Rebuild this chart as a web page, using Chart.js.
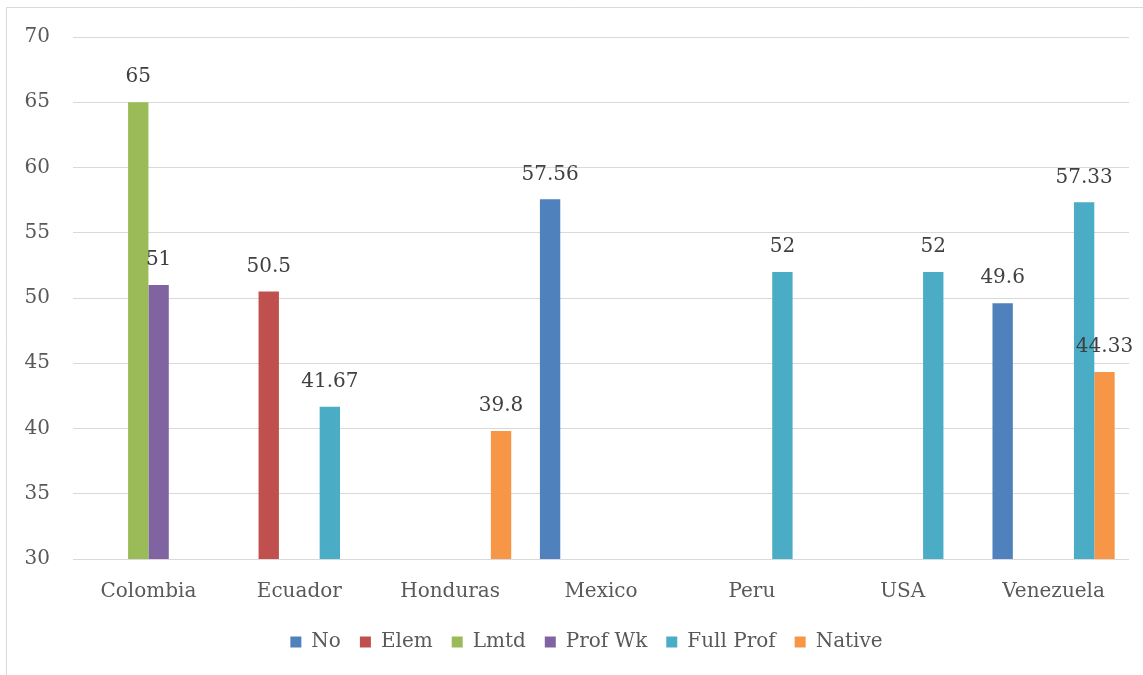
<!DOCTYPE html>
<html>
<head>
<meta charset="utf-8">
<script src="https://cdn.jsdelivr.net/npm/chart.js@4/dist/chart.umd.min.js"></script>
<style>
  body { margin: 0; background: #fff; }
  #wrap { width: 1143px; height: 675px; }
</style>
</head>
<body>
<div id="wrap"><canvas id="myChart" width="1143" height="675"></canvas></div>
<script>
var countries = ["Colombia", "Ecuador", "Honduras", "Mexico", "Peru", "USA", "Venezuela"];
var yTicks = [30, 35, 40, 45, 50, 55, 60, 65, 70];

var noData       = [null, null, null, 57.56, null, null, 49.6];
var elemData     = [null, 50.5, null, null, null, null, null];
var lmtdData     = [65, null, null, null, null, null, null];
var profWkData   = [51, null, null, null, null, null, null];
var fullProfData = [null, 41.67, null, null, 52, 52, 57.33];
var nativeData   = [null, null, 39.8, null, null, null, 44.33];

var fontFamily = "'DejaVu Serif', serif";
var fontSize = 20;

function makeSet(label, values, color){
  return {
    label: label,
    data: values,
    backgroundColor: color,
    borderWidth: 0,
    barPercentage: 1,
    categoryPercentage: 0.81
  };
}

// value labels above each bar
var barLabels = {
  id: 'barLabels',
  afterDatasetsDraw: function(chart){
    var ctx = chart.ctx;
    ctx.save();
    ctx.font = fontSize + "px " + fontFamily;
    ctx.fillStyle = "#404040";
    ctx.textAlign = "center";
    ctx.textBaseline = "middle";
    chart.data.datasets.forEach(function(ds, i){
      var meta = chart.getDatasetMeta(i);
      meta.data.forEach(function(bar, j){
        var v = ds.data[j];
        if (v === null) return;
        ctx.fillText(String(v), bar.x, bar.y - 25);
      });
    });
    ctx.restore();
  }
};

// thin frame round the chart area
var frame = {
  id: 'frame',
  beforeDraw: function(chart){
    var ctx = chart.ctx;
    ctx.save();
    ctx.strokeStyle = "#d9d9d9";
    ctx.lineWidth = 1;
    ctx.beginPath();
    ctx.moveTo(6.5, 675);
    ctx.lineTo(6.5, 7.5);
    ctx.lineTo(1143, 7.5);
    ctx.stroke();
    ctx.restore();
  }
};

// nudge the legend row a little to the right, under the plot
var legendShift = {
  id: 'legendShift',
  afterUpdate: function(chart){
    if (!chart.legend) return;
    chart.legend.left += 22;
    chart.legend.right += 22;
  }
};

var data = {
  labels: countries,
  datasets: [
    makeSet("No", noData, "#4f81bd"),
    makeSet("Elem", elemData, "#c0504d"),
    makeSet("Lmtd", lmtdData, "#9bbb59"),
    makeSet("Prof Wk", profWkData, "#8064a2"),
    makeSet("Full Prof", fullProfData, "#4bacc6"),
    makeSet("Native", nativeData, "#f79646")
  ]
};

var chart = new Chart(document.getElementById('myChart').getContext('2d'), {
  type: 'bar',
  data: data,
  plugins: [frame, barLabels, legendShift],
  options: {
    responsive: false,
    animation: false,
    layout: { padding: { left: 0, right: 14, top: 37, bottom: 13 } },
    plugins: {
      tooltip: { enabled: false },
      legend: {
        position: 'bottom',
        labels: {
          boxWidth: 11,
          boxHeight: 11,
          padding: 19,
          color: "#595959",
          font: { family: fontFamily, size: fontSize }
        }
      }
    },
    scales: {
      x: {
        grid: { display: false },
        border: { display: false },
        ticks: {
          color: "#595959",
          padding: 13,
          font: { family: fontFamily, size: fontSize }
        },
        afterFit: function(scale){ scale.height = 54; }
      },
      y: {
        min: 30,
        max: 70,
        border: { display: false },
        grid: { color: "#d9d9d9", lineWidth: 1, drawTicks: false },
        afterBuildTicks: function(scale){
          scale.ticks = yTicks.map(function(v){ return { value: v }; });
        },
        ticks: {
          color: "#595959",
          padding: 23,
          font: { family: fontFamily, size: fontSize }
        },
        afterFit: function(scale){ scale.width = 73; }
      }
    }
  }
});
</script>
</body>
</html>
